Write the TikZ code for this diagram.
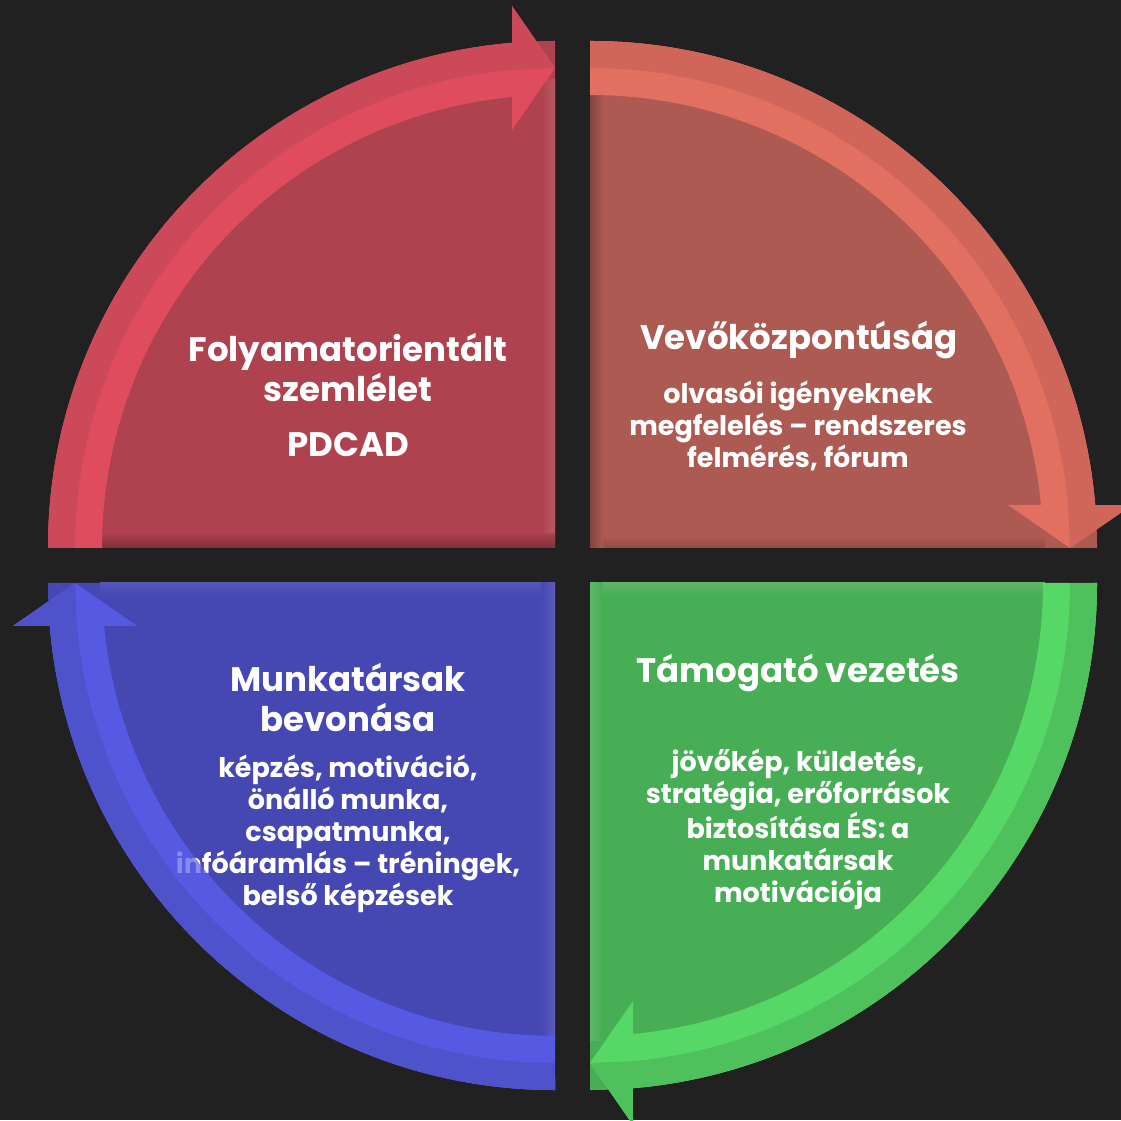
\documentclass[tikz,border=0pt]{standalone}
\usepackage{fontspec}
\setmainfont{Poppins}
\definecolor{bg}{HTML}{212121}
\definecolor{redI}{HTML}{AE424F}
\definecolor{redB}{HTML}{DE4C5E}
\definecolor{redD}{HTML}{CB4959}
\definecolor{salI}{HTML}{AD5A52}
\definecolor{salB}{HTML}{E27060}
\definecolor{salD}{HTML}{CF6659}
\definecolor{grnI}{HTML}{48AE56}
\definecolor{grnB}{HTML}{56D866}
\definecolor{grnD}{HTML}{4EC15C}
\definecolor{bluI}{HTML}{4547B3}
\definecolor{bluB}{HTML}{565AE2}
\definecolor{bluD}{HTML}{4E52CB}
\tikzset{
  titletext/.style={text=white, align=center, inner sep=0pt, font=\fontsize{34}{40}\selectfont\bfseries},
  bodytext/.style={text=white, align=center, inner sep=0pt, font=\fontsize{27}{32}\selectfont\bfseries},
}
% interior quarter disc in local frame
\newcommand\quadbody[1]{%
  \fill[#1] (0,0) -- (-507,0) arc[start angle=180,end angle=90,radius=507] -- cycle;}
\newcommand\quadarrow[2]{%
  \fill[#1] (-507,0) arc[start angle=180,end angle=94.86,radius=507] -- (-43,542) -- (0,480)
     -- (-43,418) -- (-43,450.96) arc[start angle=95.45,end angle=180,radius=453] -- cycle;
  \fill[#2] (-507,0) arc[start angle=180,end angle=94.86,radius=507] -- (-43,542) -- (0,480)
     -- (-43,478.07) arc[start angle=95.14,end angle=180,radius=480] -- cycle;}
\begin{document}
\begin{tikzpicture}[x=1pt,y=1pt]
\fill[bg] (0,0) rectangle (1121,1120);
\useasboundingbox (0,0) rectangle (1121,1120);
% quadrant bodies
\begin{scope}[shift={(555,572)}]\quadbody{redI}\end{scope}
\begin{scope}[shift={(590,572)},rotate=-90]\quadbody{salI}\end{scope}
\begin{scope}[shift={(590,537)},rotate=-180]\quadbody{grnI}\end{scope}
\begin{scope}[shift={(555,537)},rotate=90]\quadbody{bluI}\end{scope}
% bevel strips along the straight edges
\shade[bottom color=redI!72!black, top color=redI] (100,572) rectangle (555,587);
\shade[left color=redI, right color=redI!88!white] (541,587) rectangle (555,1040);
\shade[left color=salI!75!black, right color=salI] (590,572) rectangle (603,1040);
\shade[bottom color=salI!85!black, top color=salI] (603,572) rectangle (1045,584);
\shade[left color=grnI!88!white, right color=grnI] (590,80) rectangle (602,537);
\shade[top color=grnI!90!white, bottom color=grnI] (602,524) rectangle (1045,537);
\shade[right color=bluI!88!white, left color=bluI] (541,80) rectangle (555,537);
\shade[top color=bluI!92!white, bottom color=bluI] (100,524) rectangle (541,537);
% arrows
\begin{scope}[shift={(555,572)}]\quadarrow{redB}{redD}\end{scope}
\begin{scope}[shift={(590,572)},rotate=-90]\quadarrow{salB}{salD}\end{scope}
\begin{scope}[shift={(590,537)},rotate=-180]\quadarrow{grnB}{grnD}\end{scope}
\begin{scope}[shift={(555,537)},rotate=90]\quadarrow{bluB}{bluD}\end{scope}
% texts
\node[titletext] (t1) at (348,752) {Folyamatorientált\\szemlélet};
\node[titletext] (b1) at (348,675) {PDCAD};
\node[titletext] (t2) at (799,780) {Vevőközpontúság};
\node[bodytext] (b2) at (798,694) {olvasói igényeknek\\megfelelés – rendszeres\\felmérés, fórum};
\node[titletext] (t3) at (798,447) {Támogató vezetés};
\node[bodytext] (b3) at (798,291) {jövőkép, küldetés,\\stratégia, erőforrások\\biztosítása ÉS: a\\munkatársak\\motivációja};
\node[titletext] (t4) at (348,422) {Munkatársak\\bevonása};
\node[bodytext] (b4) at (348,286) {képzés, motiváció,\\önálló munka,\\csapatmunka,\\infóáramlás – tréningek,\\belső képzések};
% translucent arrow layer over the text
\begin{scope}[opacity=0.7,transparency group]
\begin{scope}[shift={(555,537)},rotate=90]
  \quadarrow{bluB}{bluD}
\end{scope}
\end{scope}
\end{tikzpicture}
\end{document}
